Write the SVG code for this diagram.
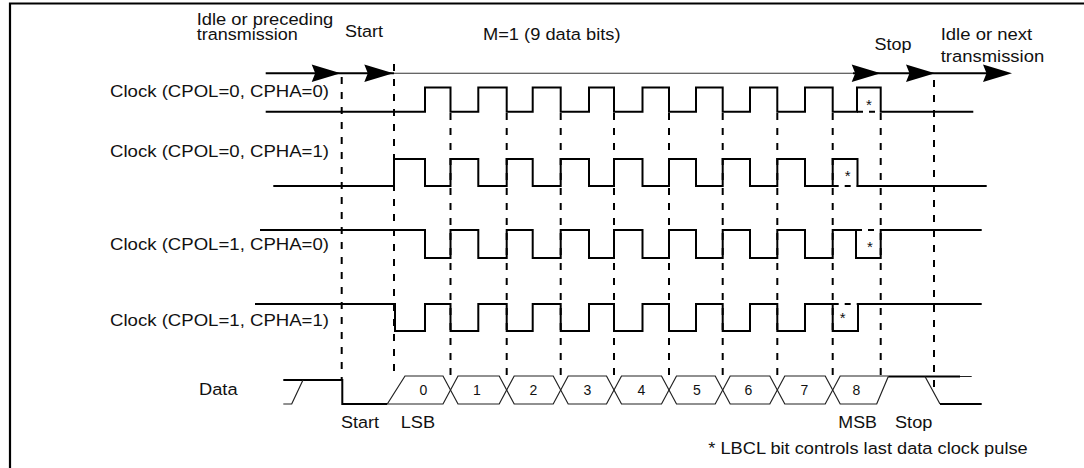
<svg xmlns="http://www.w3.org/2000/svg" xmlns:xlink="http://www.w3.org/1999/xlink" width="1084" height="468" viewBox="0 0 1084 468">
<style>
text{font-family:"Liberation Sans",Arial,Helvetica,sans-serif;font-size:16.3px;fill:#111}
.dig{font-size:14px;text-anchor:middle}
.ast{font-size:15px;text-anchor:middle}
.w{fill:none;stroke:#000;stroke-width:2;stroke-linejoin:miter;stroke-linecap:butt}
.thin{fill:none;stroke:#222;stroke-width:1.2}
.dash{fill:none;stroke:#000;stroke-width:2;stroke-dasharray:7 8}
.sdash{fill:none;stroke:#000;stroke-width:2;stroke-dasharray:6 6}
</style>
<defs>
<path id="ah" d="M0,0 L-29,-8.8 L-25.5,0 L-29,8.8 Z"/>
</defs>
<rect width="1084" height="468" fill="#fff"/>
<path id="frame" d="M10,472 V3.5 H1090" fill="none" stroke="#000" stroke-width="2.2"/>

<g id="top-labels">
<text x="196.7" y="25.3" textLength="136.6" lengthAdjust="spacingAndGlyphs">Idle or preceding</text>
<text x="196.7" y="40" textLength="101" lengthAdjust="spacingAndGlyphs">transmission</text>
<text x="345" y="36.5" textLength="38" lengthAdjust="spacingAndGlyphs">Start</text>
<text x="483" y="39.5" textLength="137.5" lengthAdjust="spacingAndGlyphs">M=1 (9 data bits)</text>
<text x="874.6" y="50" textLength="37" lengthAdjust="spacingAndGlyphs">Stop</text>
<text x="940.7" y="39.7" textLength="91.5" lengthAdjust="spacingAndGlyphs">Idle or next</text>
<text x="940.7" y="61.5" textLength="103.5" lengthAdjust="spacingAndGlyphs">transmission</text>
</g>

<g id="signal-labels">
<text x="110" y="96.7" textLength="219" lengthAdjust="spacingAndGlyphs">Clock (CPOL=0, CPHA=0)</text>
<text x="110" y="157.3" textLength="219" lengthAdjust="spacingAndGlyphs">Clock (CPOL=0, CPHA=1)</text>
<text x="110" y="250" textLength="219" lengthAdjust="spacingAndGlyphs">Clock (CPOL=1, CPHA=0)</text>
<text x="110" y="325.5" textLength="219" lengthAdjust="spacingAndGlyphs">Clock (CPOL=1, CPHA=1)</text>
<text x="199" y="395.2" textLength="38.6" lengthAdjust="spacingAndGlyphs">Data</text>
</g>

<g id="connectors">
<g id="timeline-arrow">
<path class="w" d="M265.7,73.3 H394"/>
<path d="M394,73.3 H853" fill="none" stroke="#333" stroke-width="1.1"/>
<path class="w" d="M853,73.3 H1000"/>
<use xlink:href="#ah" href="#ah" x="340.7" y="73.3"/>
<use xlink:href="#ah" href="#ah" x="393.3" y="73.3"/>
<use xlink:href="#ah" href="#ah" x="880.7" y="73.3"/>
<use xlink:href="#ah" href="#ah" x="935" y="73.3"/>
<use xlink:href="#ah" href="#ah" x="1012" y="73.3"/>
</g>
<g id="bit-boundaries">
<path class="dash" d="M341.7,77 V380"/>
<path class="dash" d="M394,64 V376"/>
<path class="dash" d="M450.5,113 V376 M506.7,113 V376 M560.7,113 V376 M614,113 V376 M669,113 V376 M722.7,113 V376 M777.3,113 V376 M832.7,113 V376 M880.7,113 V377"/>
<path class="dash" d="M934,80 V388"/>
</g>
</g>

<g id="clock-cpol0-cpha0">
<path class="w" d="M265.7,111.7 H425 V87.5 H450.5 V111.7 H478.3 V87.5 H506.7 V111.7 H532.7 V87.5 H560.7 V111.7 H589 V87.5 H614 V111.7 H642.5 V87.5 H669 V111.7 H696 V87.5 H722.7 V111.7 H750 V87.5 H777.3 V111.7 H805 V87.5 H832.7 V111.7 H857 V87.5 H880.7 V111.7 H973.3"/>
<path class="sdash" d="M857,111.7 H880.7"/>
<text class="ast" x="869" y="109.7">*</text>
</g>

<g id="clock-cpol0-cpha1">
<path class="w" d="M273.3,186 H394 V159 H425 V186 H450.5 V159 H478.3 V186 H506.7 V159 H532.7 V186 H560.7 V159 H589 V186 H614 V159 H642.5 V186 H669 V159 H696 V186 H722.7 V159 H750 V186 H777.3 V159 H805 V186 H832.7 V159 H857.5 V186 H986.7"/>
<path class="sdash" d="M832.7,186 H857.5"/>
<text class="ast" x="847.7" y="180.5">*</text>
</g>

<g id="clock-cpol1-cpha0">
<path class="w" d="M260,230 H425 V258 H450.5 V230 H478.3 V258 H506.7 V230 H532.7 V258 H560.7 V230 H589 V258 H614 V230 H642.5 V258 H669 V230 H696 V258 H722.7 V230 H750 V258 H777.3 V230 H805 V258 H832.7 V230 H856 V258 H880.7 V230 H981.7"/>
<path class="sdash" d="M856,230 H880.7"/>
<text class="ast" x="870" y="251.5">*</text>
</g>

<g id="clock-cpol1-cpha1">
<path class="w" d="M255,304 H395 V331 H425 V304 H450.5 V331 H478.3 V304 H506.7 V331 H532.7 V304 H560.7 V331 H589 V304 H614 V331 H642.5 V304 H669 V331 H696 V304 H722.7 V331 H750 V304 H777.3 V331 H805 V304 H832.7 V331 H858 V304 H981.7"/>
<path class="sdash" d="M832.7,304 H858"/>
<text class="ast" x="842.7" y="323">*</text>
</g>

<g id="data">
<path class="w" d="M283.3,380 H342.3 V404 H387.3"/>
<path class="thin" d="M283.3,404 H291.7 L303,380"/>
<path class="thin" d="M387.3,404 L405,376 H443 L458,404 H499.2 L514.2,376 H553.2 L568.2,404 H606.5 L621.5,376 H661.5 L676.5,404 H715.2 L730.2,376 H769.8 L784.8,404 H825.2 L840.2,376 H888.3"/>
<path class="thin" d="M387.3,404 H443 L458,376 H499.2 L514.2,404 H553.2 L568.2,376 H606.5 L621.5,404 H661.5 L676.5,376 H715.2 L730.2,404 H769.8 L784.8,376 H825.2 L840.2,404 H876.7 L888.3,376.5"/>
<path class="w" d="M888.3,376.5 H960"/>
<path class="thin" d="M960,376.5 H971.7 M925,376.5 L940,404"/>
<path class="w" d="M940,404 H981.7"/>
<text class="dig" x="423.3" y="395">0</text>
<text class="dig" x="477" y="395">1</text>
<text class="dig" x="533.5" y="395">2</text>
<text class="dig" x="587.3" y="395">3</text>
<text class="dig" x="641.3" y="395">4</text>
<text class="dig" x="697" y="395">5</text>
<text class="dig" x="748.5" y="395">6</text>
<text class="dig" x="804.5" y="395">7</text>
<text class="dig" x="856.3" y="395">8</text>
</g>

<g id="bottom-labels">
<text x="341" y="428" textLength="38" lengthAdjust="spacingAndGlyphs">Start</text>
<text x="400.7" y="428" textLength="34.4" lengthAdjust="spacingAndGlyphs">LSB</text>
<text x="838.3" y="428" textLength="38.6" lengthAdjust="spacingAndGlyphs">MSB</text>
<text x="895" y="428" textLength="37.3" lengthAdjust="spacingAndGlyphs">Stop</text>
<text x="708.3" y="454.3" textLength="319.4" lengthAdjust="spacingAndGlyphs">* LBCL bit controls last data clock pulse</text>
</g>
</svg>
